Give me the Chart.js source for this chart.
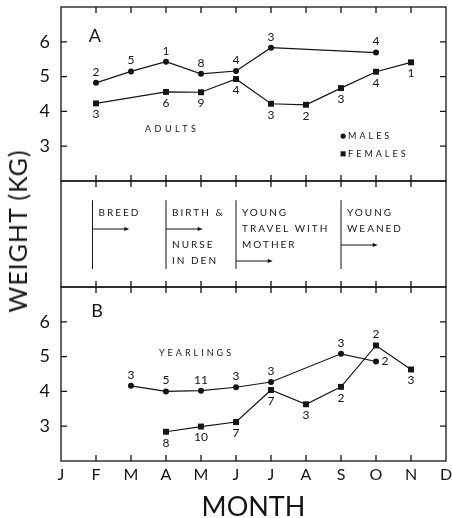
<!DOCTYPE html>
<html>
<head>
<meta charset="utf-8">
<script src="https://cdn.jsdelivr.net/npm/chart.js@4"></script>
<style>
  html, body { margin: 0; padding: 0; background: #fff; }
  #wrap { position: relative; width: 452px; height: 518px; overflow: hidden; font-family: Lato, sans-serif; }
  canvas { position: absolute; left: 0; top: 0; }
  #ytitle {
    position: absolute; left: 17px; top: 231px;
    transform: translate(-50%, -50%) rotate(-90deg);
    font-size: 25px; letter-spacing: 1px; white-space: nowrap; color: #151515;
  }
</style>
</head>
<body>
<div id="wrap">
  <canvas id="chartA" width="452" height="518"></canvas>
  <canvas id="chartMid" width="452" height="518"></canvas>
  <canvas id="chartB" width="452" height="518"></canvas>
  <div id="ytitle">WEIGHT (KG)</div>
</div>
<script>
/* ================================
   DATA
================================ */

const MONTHS = ["J", "F", "M", "A", "M", "J", "J", "A", "S", "O", "N", "D"];
const Y_TICKS = [3, 4, 5, 6];

// A: adults (month index, weight kg, sample size)
const adultMaleMonth  = [1, 2, 3, 4, 5, 6, 9];
const adultMaleWeight = [4.82, 5.15, 5.43, 5.08, 5.16, 5.83, 5.69];
const adultMaleN      = [2, 5, 1, 8, 4, 3, 4];

const adultFemaleMonth  = [1, 3, 4, 5, 6, 7, 8, 9, 10];
const adultFemaleWeight = [4.23, 4.56, 4.55, 4.93, 4.22, 4.19, 4.67, 5.14, 5.41];
const adultFemaleN      = [3, 6, 9, 4, 3, 2, 3, 4, 1];

// B: yearlings
const yrlMaleMonth  = [2, 3, 4, 5, 6, 8, 9];
const yrlMaleWeight = [4.16, 4.0, 4.02, 4.12, 4.27, 5.08, 4.86];
const yrlMaleN      = [3, 5, 11, 3, 3, 3, 2];

const yrlFemaleMonth  = [3, 4, 5, 6, 7, 8, 9, 10];
const yrlFemaleWeight = [2.84, 2.99, 3.12, 4.04, 3.63, 4.13, 5.32, 4.63];
const yrlFemaleN      = [8, 10, 7, 7, 3, 2, 2, 3];

// life-cycle phases (middle strip)
const phaseStart = [0.9, 3, 5, 8];
const phaseText  = [["BREED"], ["BIRTH &", "NURSE", "IN DEN"], ["YOUNG", "TRAVEL WITH", "MOTHER"], ["YOUNG", "WEANED"]];
const phaseArrowRow = [3, 3, 5, 4];

/* ================================
   LOOK
================================ */

const ink = "#151515";
const face = "Lato, 'DejaVu Sans', sans-serif";

const ABOVE = "above", BELOW = "below", RIGHT = "right";
const adultMaleSide   = adultMaleN.map(() => ABOVE);
const adultFemaleSide = adultFemaleN.map(() => BELOW);
const yrlMaleSide     = [ABOVE, ABOVE, ABOVE, ABOVE, ABOVE, ABOVE, RIGHT];
const yrlFemaleSide   = [BELOW, BELOW, BELOW, BELOW, BELOW, BELOW, ABOVE, BELOW];

const pts = (xs, ys) => xs.map((m, i) => ({ x: m, y: ys[i] }));

function series(label, xs, ys, n, sides, style) {
  return {
    label,
    data: pts(xs, ys),
    counts: n,
    sides,
    borderColor: ink,
    backgroundColor: ink,
    borderWidth: 1.2,
    pointStyle: style,
    pointRadius: style === "rect" ? 4.2 : 3,
    pointBorderWidth: 0,
    tension: 0
  };
}

/* ================================
   PLUGINS
================================ */

const frame = {
  id: "frame",
  afterDatasetsDraw(chart, args, opts) {
    const { ctx, chartArea: a, scales: { x, y } } = chart;
    ctx.save();
    ctx.strokeStyle = ink;
    ctx.lineWidth = 1.3;
    ctx.strokeRect(a.left, a.top, a.right - a.left, a.bottom - a.top);
    ctx.beginPath();
    for (let i = 1; i < MONTHS.length - 1; i++) {
      const px = x.getPixelForValue(i);
      ctx.moveTo(px, a.top);    ctx.lineTo(px, a.top + 6);
      ctx.moveTo(px, a.bottom); ctx.lineTo(px, a.bottom - 6);
    }
    if (opts.yTicks) {
      Y_TICKS.forEach(v => {
        const py = y.getPixelForValue(v);
        ctx.moveTo(a.left, py);  ctx.lineTo(a.left + 6, py);
        ctx.moveTo(a.right, py); ctx.lineTo(a.right - 6, py);
      });
    }
    ctx.stroke();
    ctx.restore();
  }
};

const counts = {
  id: "counts",
  afterDatasetsDraw(chart) {
    const ctx = chart.ctx;
    ctx.save();
    ctx.fillStyle = ink;
    ctx.font = "12px " + face;
    ctx.textAlign = "center";
    ctx.textBaseline = "middle";
    chart.data.datasets.forEach((ds, di) => {
      if (!ds.counts) return;
      chart.getDatasetMeta(di).data.forEach((pt, i) => {
        let dx = 0, dy = 0;
        if (ds.sides[i] === ABOVE) dy = -11;
        else if (ds.sides[i] === BELOW) dy = 11;
        else dx = 9;
        ctx.fillText(ds.counts[i], pt.x + dx, pt.y + dy);
      });
    });
    ctx.restore();
  }
};

const notes = {
  id: "notes",
  afterDraw(chart, args, opts) {
    const { ctx, scales: { x, y } } = chart;
    ctx.save();
    ctx.fillStyle = ink;
    ctx.textBaseline = "middle";
    (opts.items || []).forEach(n => {
      ctx.font = n.size + "px " + face;
      ctx.letterSpacing = (n.spacing || 0) + "px";
      ctx.textAlign = n.align || "left";
      ctx.fillText(n.text, x.getPixelForValue(n.x), y.getPixelForValue(n.y));
    });
    // key for the two series
    if (opts.key) {
      const k = opts.key;
      chart.data.datasets.forEach((ds, i) => {
        const px = x.getPixelForValue(k.x), py = y.getPixelForValue(k.y[i]);
        Chart.helpers.drawPoint(ctx, {
          pointStyle: ds.pointStyle,
          radius: ds.pointStyle === "rect" ? 3.6 : 2.6,
          borderWidth: 0
        }, px, py);
        ctx.font = "9px " + face;
        ctx.letterSpacing = "3px";
        ctx.textAlign = "left";
        ctx.fillText(ds.label, px + 5, py);
      });
    }
    ctx.restore();
  }
};

const phases = {
  id: "phases",
  afterDraw(chart) {
    const { ctx, scales: { x, y } } = chart;
    ctx.save();
    ctx.strokeStyle = ink;
    ctx.fillStyle = ink;
    ctx.lineWidth = 1;
    ctx.font = "10px " + face;
    ctx.letterSpacing = "2px";
    ctx.textBaseline = "middle";
    phaseStart.forEach((m, i) => {
      const px = x.getPixelForValue(m);
      ctx.beginPath();
      ctx.moveTo(px, y.getPixelForValue(1.2));
      ctx.lineTo(px, y.getPixelForValue(5.5));
      ctx.stroke();

      let row = 2;
      phaseText[i].forEach(t => {
        if (row === phaseArrowRow[i]) row++;
        ctx.fillText(t, px + 6, y.getPixelForValue(row));
        row++;
      });

      const ay = y.getPixelForValue(phaseArrowRow[i]);
      const ax = x.getPixelForValue(m + 1.05);
      ctx.beginPath();
      ctx.moveTo(px, ay);
      ctx.lineTo(ax - 3, ay);
      ctx.stroke();
      ctx.beginPath();
      ctx.moveTo(ax, ay);
      ctx.lineTo(ax - 5, ay - 2);
      ctx.lineTo(ax - 5, ay + 2);
      ctx.closePath();
      ctx.fill();
    });
    ctx.restore();
  }
};

/* ================================
   CHARTS
================================ */

function weightAxis() {
  return {
    type: "linear",
    min: 2,
    max: 7,
    afterFit: s => { s.width = 61; s.paddingTop = 0; s.paddingBottom = 0; },
    grid: { display: false, drawTicks: false },
    border: { display: false },
    ticks: {
      stepSize: 1,
      padding: 11,
      color: ink,
      font: { family: face, size: 18 },
      callback: v => (Y_TICKS.includes(v) ? v : "")
    }
  };
}

const monthAxisHidden = { type: "linear", min: 0, max: 11, display: false };

new Chart(document.getElementById("chartA"), {
  type: "line",
  data: {
    datasets: [
      series("MALES", adultMaleMonth, adultMaleWeight, adultMaleN, adultMaleSide, "circle"),
      series("FEMALES", adultFemaleMonth, adultFemaleWeight, adultFemaleN, adultFemaleSide, "rect")
    ]
  },
  options: {
    responsive: false,
    animation: false,
    events: [],
    layout: { padding: { top: 7, bottom: 337, left: 0, right: 6 } },
    scales: { x: monthAxisHidden, y: weightAxis() },
    plugins: {
      legend: { display: false },
      tooltip: { enabled: false },
      frame: { yTicks: true },
      notes: {
        items: [
          { text: "A", x: 0.97, y: 6.16, size: 18, align: "center" },
          { text: "ADULTS", x: 2.4, y: 3.49, size: 9, spacing: 3.5 }
        ],
        key: { x: 8.06, y: [3.29, 2.78] }
      }
    }
  },
  plugins: [frame, counts, notes]
});

new Chart(document.getElementById("chartMid"), {
  type: "line",
  data: { datasets: [] },
  options: {
    responsive: false,
    animation: false,
    events: [],
    layout: { padding: { top: 181, bottom: 231, left: 61, right: 6 } },
    scales: {
      x: monthAxisHidden,
      y: { type: "linear", min: 0, max: 6.625, reverse: true, display: false }
    },
    plugins: { legend: { display: false }, tooltip: { enabled: false }, frame: { yTicks: false } }
  },
  plugins: [frame, phases]
});

new Chart(document.getElementById("chartB"), {
  type: "line",
  data: {
    datasets: [
      series("MALES", yrlMaleMonth, yrlMaleWeight, yrlMaleN, yrlMaleSide, "circle"),
      series("FEMALES", yrlFemaleMonth, yrlFemaleWeight, yrlFemaleN, yrlFemaleSide, "rect")
    ]
  },
  options: {
    responsive: false,
    animation: false,
    events: [],
    layout: { padding: { top: 287, bottom: 0, left: 0, right: 6 } },
    scales: {
      x: {
        type: "linear",
        min: 0,
        max: 11,
        afterFit: s => { s.height = 57; s.paddingLeft = 0; s.paddingRight = 0; },
        grid: { display: false, drawTicks: false },
        border: { display: false },
        ticks: {
          stepSize: 1,
          autoSkip: false,
          maxRotation: 0,
          padding: 4,
          color: ink,
          font: { family: face, size: 16 },
          callback: v => MONTHS[v]
        },
        title: {
          display: true,
          text: "MONTH",
          color: ink,
          font: { family: face, size: 27, lineHeight: 0.8 },
          padding: { top: 5, bottom: 0 }
        }
      },
      y: weightAxis()
    },
    plugins: {
      legend: { display: false },
      tooltip: { enabled: false },
      frame: { yTicks: true },
      notes: {
        items: [
          { text: "B", x: 1.03, y: 6.31, size: 18, align: "center" },
          { text: "YEARLINGS", x: 2.8, y: 5.11, size: 9, spacing: 3 }
        ]
      }
    }
  },
  plugins: [frame, counts, notes]
});
</script>
</body>
</html>
